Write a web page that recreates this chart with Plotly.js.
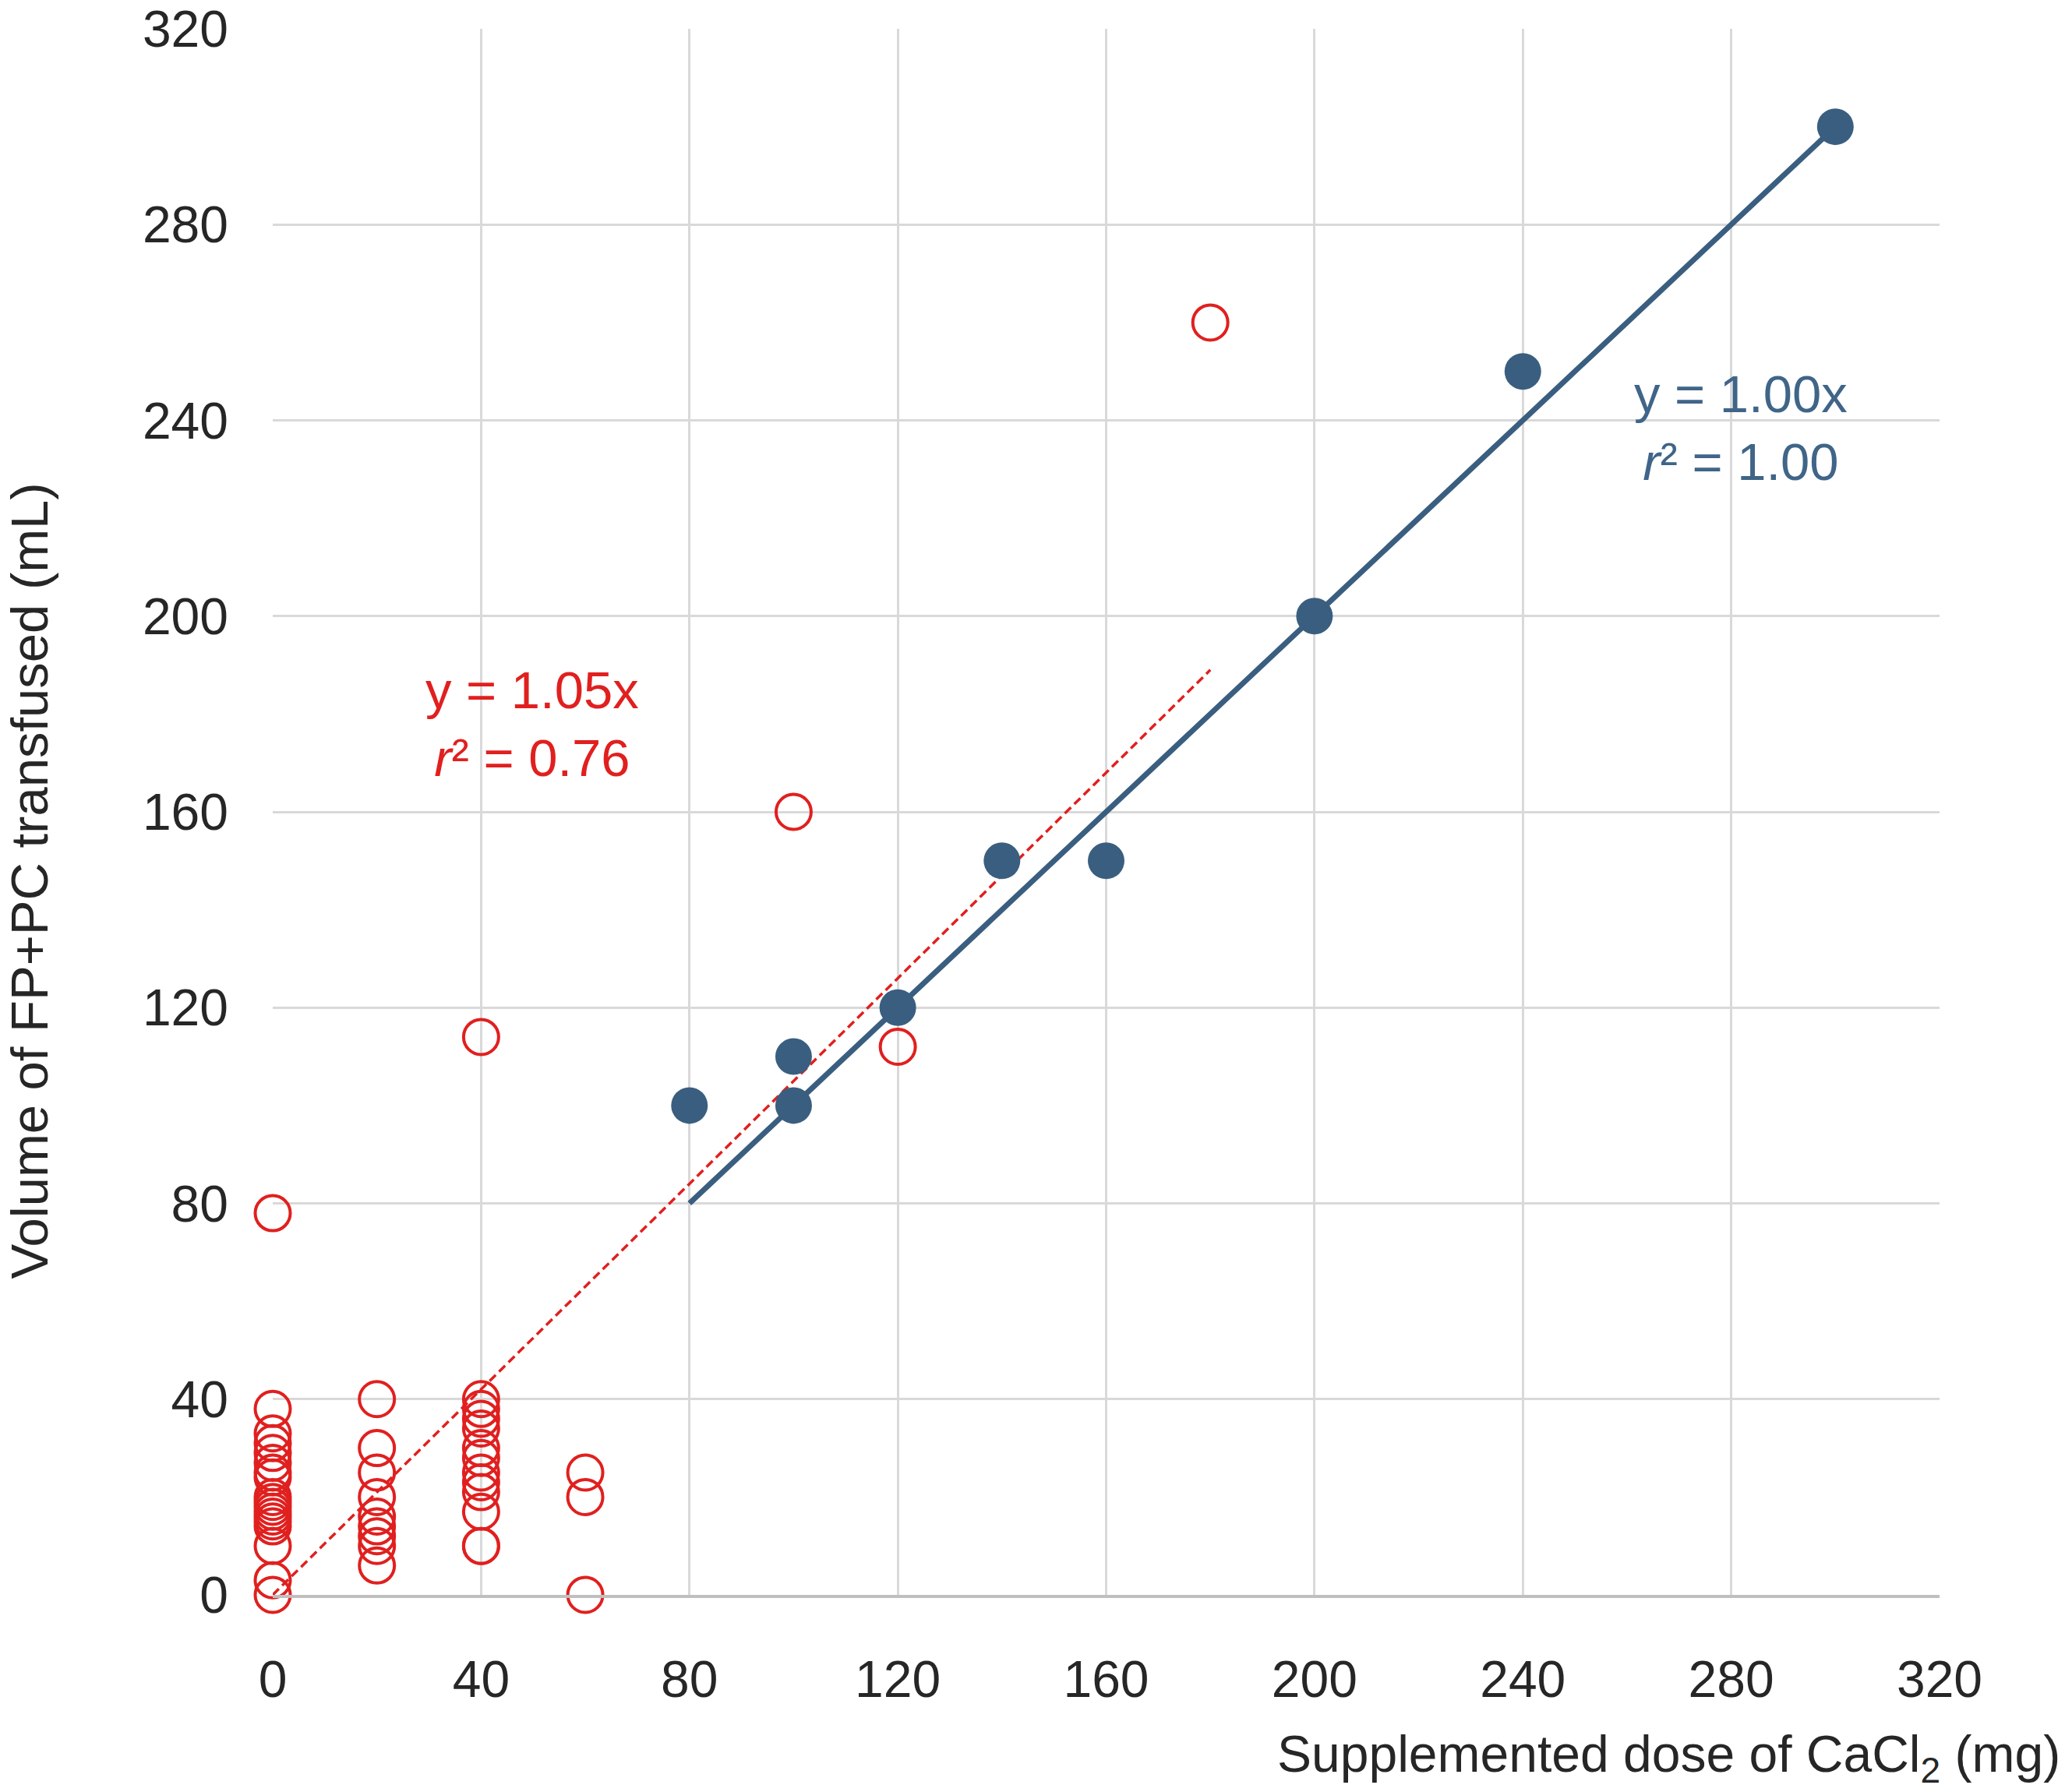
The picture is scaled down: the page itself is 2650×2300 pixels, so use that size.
<!DOCTYPE html>
<html>
<head>
<meta charset="utf-8">
<script src="https://cdn.plot.ly/plotly-3.0.1.min.js"></script>
<style>html,body{margin:0;padding:0;background:#fff;}#chart{width:2650px;height:2300px;}</style>
</head>
<body>
<div id="chart"></div>
<script>
// Red group (open circles)
const redX = [0,0,0,0,0,0,0,0,0,0,0,0,0,0,0,0,0,0,
              20,20,20,20,20,20,20,20,20,
              40,40,40,40,40,40,40,40,40,40,40,40,40,
              60,60,60,
              100,120,180];
const redY = [78,38,33,31,29,27,25,24,20,19,18,17,16,15,14,10,3,0,
              40,30,25,20,16,14,12,10,6,
              114,40,38,36,34,30,28,25,23,21,17,10,10,
              25,20,0,
              160,112,260];
// Blue group (filled circles)
const blueX = [80,100,100,120,140,160,200,240,300];
const blueY = [100,110,100,120,150,150,200,250,300];
// Fitted lines (through origin)
const redSlope = 1.05;
const redFitX = [0,180];
const blueSlope = 1.00;
const blueFitX = [80,300];
const tickVals = [0,40,80,120,160,200,240,280,320];

const red = '#E0201F';
const blue = '#3A5E7F';
const blueText = '#3F6588';
const font = 'Liberation Sans, Arial, sans-serif';

const traces = [
  {x: redFitX, y: redFitX.map(v => v*redSlope), mode:'lines', type:'scatter',
   line:{color:red, width:3.5, dash:'11px,6px'}, hoverinfo:'skip', cliponaxis:false},
  {x: blueFitX, y: blueFitX.map(v => v*blueSlope), mode:'lines', type:'scatter',
   line:{color:blue, width:7}, hoverinfo:'skip', cliponaxis:false},
  {x: redX, y: redY, mode:'markers', type:'scatter', cliponaxis:false,
   marker:{symbol:'circle-open', size:45, color:red, line:{color:red, width:4}}},
  {x: blueX, y: blueY, mode:'markers', type:'scatter', cliponaxis:false,
   marker:{symbol:'circle', size:47, color:blue, line:{width:0}}}
];

const layout = {
  width:2650, height:2300,
  margin:{l:350, r:161, t:37, b:253},
  paper_bgcolor:'#fff', plot_bgcolor:'#fff',
  showlegend:false,
  font:{family:font, size:66, color:'#262626'},
  xaxis:{range:[0,320], tickvals:tickVals, ticktext:tickVals.map(String),
         showgrid:true, gridcolor:'#D9D9D9', gridwidth:3, zeroline:false,
         showline:true, linecolor:'#BFBFBF', linewidth:4, mirror:false,
         ticks:'', ticklabelstandoff:48, tickfont:{size:66, color:'#262626'}},
  yaxis:{range:[0,320], tickvals:tickVals, ticktext:tickVals.map(String),
         showgrid:true, gridcolor:'#D9D9D9', gridwidth:3, zeroline:false,
         showline:false, ticks:'', ticklabelstandoff:56, tickfont:{size:66, color:'#262626'}},
  annotations:[
    {xref:'paper', yref:'paper', x:1.0734, y:-0.104, xanchor:'right', yanchor:'middle',
     text:'Supplemented dose of CaCl<sub>2</sub> (mg)', showarrow:false,
     font:{family:font, size:66, color:'#262626'}},
    {xref:'paper', yref:'paper', x:-0.1463, y:0.456, xanchor:'center', yanchor:'middle',
     text:'Volume of FP+PC transfused (mL)', textangle:-90, showarrow:false,
     font:{family:font, size:67, color:'#262626'}},
    {xref:'x', yref:'y', x:49.8, y:178, xanchor:'center', yanchor:'middle',
     text:'y = 1.05x<br><i>r</i>² = 0.76', showarrow:false, align:'center',
     font:{family:font, size:67, color:red}},
    {xref:'x', yref:'y', x:281.8, y:238.5, xanchor:'center', yanchor:'middle',
     text:'y = 1.00x<br><i>r</i>² = 1.00', showarrow:false, align:'center',
     font:{family:font, size:67, color:blueText}}
  ]
};

Plotly.newPlot('chart', traces, layout, {staticPlot:true, displayModeBar:false});
</script>
</body>
</html>
